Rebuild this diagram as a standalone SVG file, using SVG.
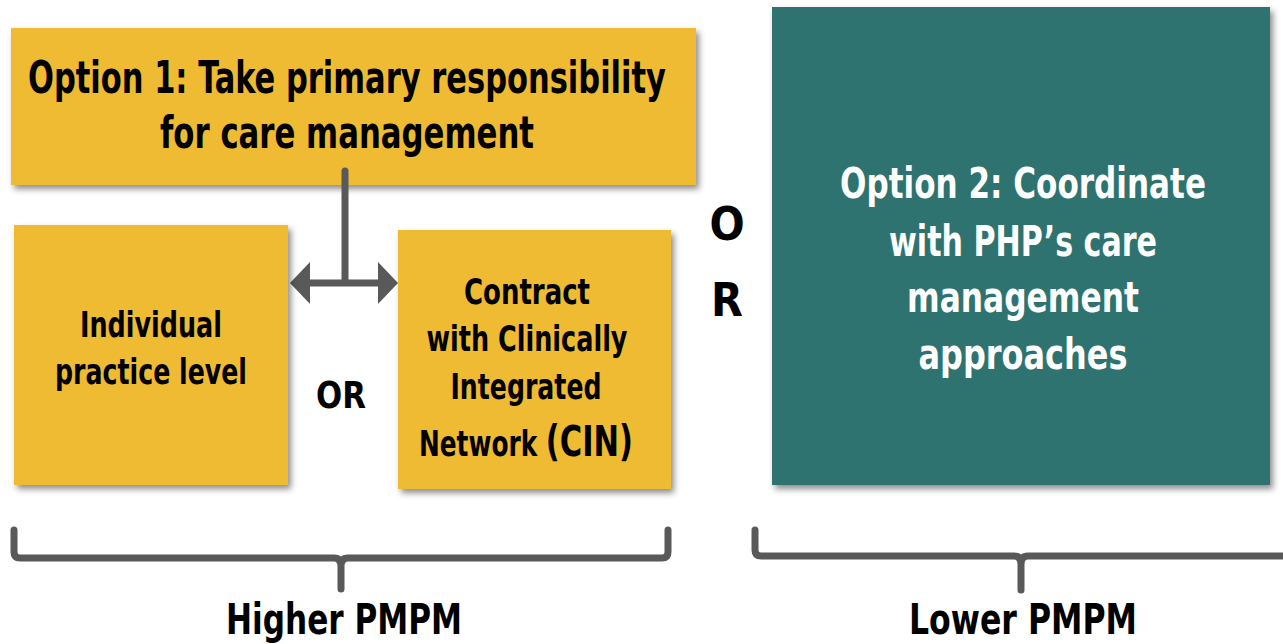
<svg xmlns="http://www.w3.org/2000/svg" width="1283" height="644" viewBox="0 0 1283 644">
<defs>
<filter id="sh" x="-5%" y="-5%" width="115%" height="120%">
<feDropShadow dx="3" dy="4" stdDeviation="3" flood-color="#000" flood-opacity="0.45"/>
</filter>
<style>
.y{fill:#eebb30;filter:url(#sh)}
.g{fill:#2d7370;filter:url(#sh)}
text{font-family:"DejaVu Sans Condensed","Liberation Sans Narrow","Liberation Sans",sans-serif;font-stretch:condensed;font-weight:bold;text-anchor:middle;fill:#000}
.w{fill:#fff}
.ln{fill:none;stroke:#595959;stroke-width:7;stroke-linecap:round;stroke-linejoin:round}
</style>
</defs>
<g id="option1">
<rect class="y" x="11" y="28" width="685" height="157"/>
<text x="347" y="93" font-size="44" textLength="638" lengthAdjust="spacingAndGlyphs">Option 1: Take primary responsibility</text>
<text x="347" y="148" font-size="44" textLength="374" lengthAdjust="spacingAndGlyphs">for care management</text>
</g>
<g id="connectors">
<line class="ln" x1="345" y1="171" x2="345" y2="280" stroke-linecap="butt"/>
<line class="ln" x1="305" y1="283" x2="384" y2="283" stroke-linecap="butt"/>
<polygon points="290,283 310,262 310,304" fill="#595959"/>
<polygon points="398,283 378,262 378,304" fill="#595959"/>
</g>
<g id="individual">
<rect class="y" x="14" y="225" width="274" height="260"/>
<text x="151" y="337" font-size="35" textLength="142" lengthAdjust="spacingAndGlyphs">Individual</text>
<text x="151" y="384" font-size="35" textLength="192" lengthAdjust="spacingAndGlyphs">practice level</text>
</g>
<g id="or-mid">
<text x="341" y="408" font-size="38" textLength="50" lengthAdjust="spacingAndGlyphs">OR</text>
</g>
<g id="cin">
<rect class="y" x="398" y="230" width="273" height="259"/>
<text x="527" y="304" font-size="35" textLength="126" lengthAdjust="spacingAndGlyphs">Contract</text>
<text x="527" y="351" font-size="35" textLength="201" lengthAdjust="spacingAndGlyphs">with Clinically</text>
<text x="526" y="399" font-size="35" textLength="151" lengthAdjust="spacingAndGlyphs">Integrated</text>
<text x="526" y="456" font-size="35" textLength="214" lengthAdjust="spacingAndGlyphs">Network <tspan font-size="43">(CIN)</tspan></text>
</g>
<g id="or-big">
<text x="727" y="240" font-size="46">O</text>
<text x="727" y="316" font-size="46">R</text>
</g>
<g id="option2">
<rect class="g" x="772" y="7" width="498" height="478"/>
<text class="w" x="1023" y="198" font-size="43" textLength="366" lengthAdjust="spacingAndGlyphs">Option 2: Coordinate</text>
<text class="w" x="1023" y="256" font-size="43" textLength="268" lengthAdjust="spacingAndGlyphs">with PHP’s care</text>
<text class="w" x="1023" y="312" font-size="43" textLength="232" lengthAdjust="spacingAndGlyphs">management</text>
<text class="w" x="1023" y="369" font-size="43" textLength="209" lengthAdjust="spacingAndGlyphs">approaches</text>
</g>
<g id="higher">
<path class="ln" d="M14,530 V552 Q14,558 20,558 H334 Q341,558 341,566 V589 M341,566 Q341,558 348,558 H662 Q668,558 668,552 V530"/>
<text x="344" y="634" font-size="43" textLength="236" lengthAdjust="spacingAndGlyphs">Higher PMPM</text>
</g>
<g id="lower">
<path class="ln" d="M755,530 V550 Q755,556 761,556 H1014 Q1021,556 1021,564 V590 M1021,564 Q1021,556 1028,556 H1290"/>
<text x="1023" y="634" font-size="43" textLength="228" lengthAdjust="spacingAndGlyphs">Lower PMPM</text>
</g>
</svg>
